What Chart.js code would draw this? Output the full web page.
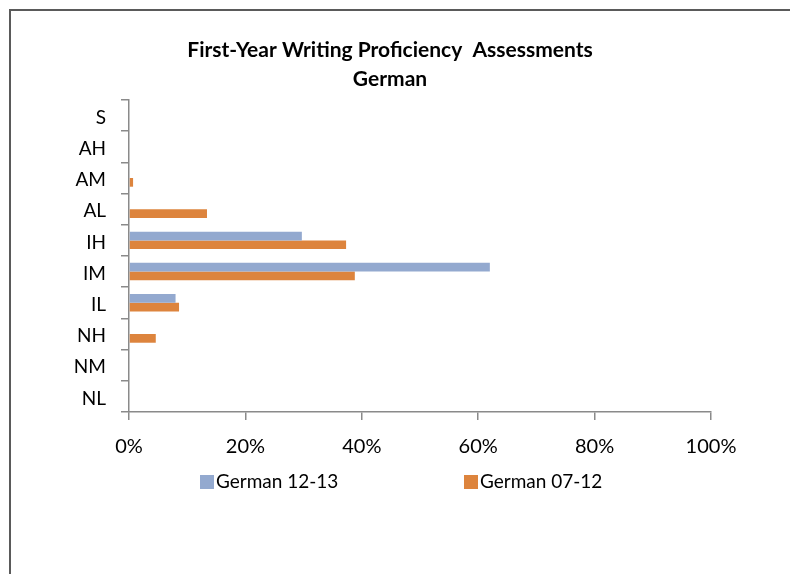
<!DOCTYPE html>
<html>
<head>
<meta charset="utf-8">
<title>First-Year Writing Proficiency Assessments - German</title>
<script src="https://cdn.jsdelivr.net/npm/chart.js@4.4.1/dist/chart.umd.min.js"></script>
<style>
  html, body { margin: 0; padding: 0; background: #ffffff; overflow: hidden; }
  #wrap { position: relative; width: 790px; height: 574px; }
  #frame {
    position: absolute; left: 9px; top: 9px; width: 900px; height: 700px;
    border-left: 2px solid #5a5a5a; border-top: 2px solid #5a5a5a;
    box-sizing: border-box;
  }
  canvas { position: absolute; left: 0; top: 0; }
</style>
</head>
<body>
<div id="wrap">
  <div id="frame"></div>
  <canvas id="chart" width="790" height="574"></canvas>
</div>
<script>
// Proficiency levels, top to bottom
const levels = ['S', 'AH', 'AM', 'AL', 'IH', 'IM', 'IL', 'NH', 'NM', 'NL'];

// Share of students at each level (percent)
const german1213 = [0, 0, 0, 0, 29.7, 62.0, 8.0, 0, 0, 0];
const german0712 = [0, 0, 0.7, 13.4, 37.3, 38.8, 8.6, 4.6, 0, 0];

const seriesNames = ['German 12-13', 'German 07-12'];
const seriesColors = ['#93a9cf', '#dd843d'];

const titleLines = ['First-Year Writing Proficiency  Assessments', 'German'];

const FONT = 'Lato, "Liberation Sans", sans-serif';
const AXIS_GREY = '#8a8a8a';

// Legend drawn underneath the axis labels, spread like the original sheet
const legendPlugin = {
  id: 'sheetLegend',
  afterDraw(chart) {
    const ctx = chart.ctx;
    const xs = [200, 464];
    const y = 482;
    ctx.save();
    ctx.font = '19px ' + FONT;
    ctx.textBaseline = 'middle';
    ctx.textAlign = 'left';
    chart.data.datasets.forEach((ds, i) => {
      ctx.fillStyle = ds.backgroundColor;
      ctx.fillRect(xs[i], y - 7, 14, 14);
      ctx.fillStyle = '#000000';
      ctx.fillText(ds.label, xs[i] + 16, y);
    });
    ctx.restore();
  }
};

new Chart(document.getElementById('chart'), {
  type: 'bar',
  data: {
    labels: levels,
    datasets: [
      { label: seriesNames[0], data: german1213, backgroundColor: seriesColors[0] },
      { label: seriesNames[1], data: german0712, backgroundColor: seriesColors[1] }
    ]
  },
  options: {
    indexAxis: 'y',
    responsive: false,
    animation: false,
    devicePixelRatio: 1,
    barPercentage: 1.0,
    categoryPercentage: 0.56,
    layout: { padding: { left: 69, right: 79, top: 36, bottom: 102 } },
    plugins: {
      legend: { display: false },
      tooltip: { enabled: false },
      title: {
        display: true,
        text: titleLines,
        color: '#000000',
        font: { family: FONT, size: 21, weight: 'bold', lineHeight: 1.38 },
        padding: { top: 0, bottom: 6 }
      }
    },
    scales: {
      x: {
        type: 'linear',
        min: 0,
        max: 100,
        afterFit(scale) { scale.height = 60; },
        ticks: {
          stepSize: 20,
          padding: 15,
          color: '#000000',
          font: { family: FONT, size: 20 },
          callback: (v) => v + '%'
        },
        grid: {
          display: true,
          drawOnChartArea: false,
          drawTicks: true,
          tickLength: 8,
          color: AXIS_GREY,
          lineWidth: 1.5
        },
        border: { display: true, color: AXIS_GREY, width: 1.5 }
      },
      y: {
        type: 'category',
        afterFit(scale) { scale.width = 60; },
        ticks: {
          padding: 15,
          labelOffset: 2,
          color: '#000000',
          font: { family: FONT, size: 19 }
        },
        grid: {
          display: true,
          offset: true,
          drawOnChartArea: false,
          drawTicks: true,
          tickLength: 8,
          color: AXIS_GREY,
          lineWidth: 1.5
        },
        border: { display: true, color: AXIS_GREY, width: 1.5 }
      }
    }
  },
  plugins: [legendPlugin]
});
</script>
</body>
</html>
